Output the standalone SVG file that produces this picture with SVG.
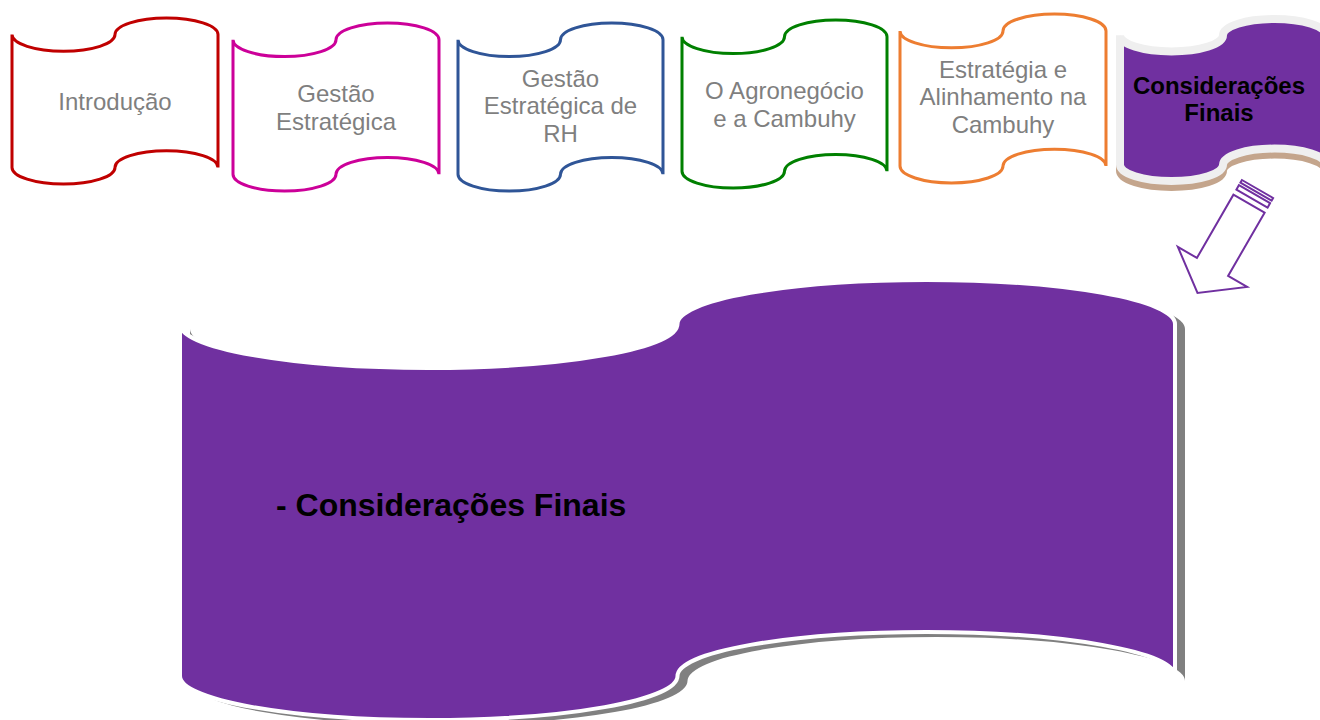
<svg xmlns="http://www.w3.org/2000/svg" width="1320" height="720" viewBox="0 0 1320 720">
<style>
.tape{fill:#FFFFFF;stroke-width:3;stroke-linejoin:miter}
.lbl{font-family:"Liberation Sans",Arial,sans-serif;font-size:24px;fill:#7F7F7F;text-anchor:middle}
.lblb{font-family:"Liberation Sans",Arial,sans-serif;font-size:24px;font-weight:bold;fill:#000000;text-anchor:middle}
.big{font-family:"Liberation Sans",Arial,sans-serif;font-size:32px;font-weight:bold;fill:#000000}
</style>
<rect width="1320" height="720" fill="#FFFFFF"/>
<g id="node-introducao">
<path class="tape" stroke="#C00000" d="M12,34.6 A51.5,16.6 0 0 0 115,34.6 A51.5,16.6 0 0 1 218,34.6 L218,167.4 A51.5,16.6 0 0 0 115,167.4 A51.5,16.6 0 0 1 12,167.4 Z"/>
<text class="lbl" x="115" y="110">Introdução</text>
</g>
<g id="node-gestao-estrategica">
<path class="tape" stroke="#CC0099" d="M233,39.8 A51.5,16.8 0 0 0 336,39.8 A51.5,16.8 0 0 1 439,39.8 L439,174.2 A51.5,16.8 0 0 0 336,174.2 A51.5,16.8 0 0 1 233,174.2 Z"/>
<text class="lbl" x="336" y="102">Gestão</text>
<text class="lbl" x="336" y="130">Estratégica</text>
</g>
<g id="node-gestao-rh">
<path class="tape" stroke="#2F5597" d="M458,39.8 A51.25,16.8 0 0 0 560.5,39.8 A51.25,16.8 0 0 1 663,39.8 L663,174.2 A51.25,16.8 0 0 0 560.5,174.2 A51.25,16.8 0 0 1 458,174.2 Z"/>
<text class="lbl" x="560.5" y="87">Gestão</text>
<text class="lbl" x="560.5" y="114">Estratégica de</text>
<text class="lbl" x="560.5" y="142">RH</text>
</g>
<g id="node-agronegocio">
<path class="tape" stroke="#008000" d="M682,36.8 A51.25,16.8 0 0 0 784.5,36.8 A51.25,16.8 0 0 1 887,36.8 L887,171.2 A51.25,16.8 0 0 0 784.5,171.2 A51.25,16.8 0 0 1 682,171.2 Z"/>
<text class="lbl" x="784.5" y="99">O Agronegócio</text>
<text class="lbl" x="784.5" y="127">e a Cambuhy</text>
</g>
<g id="node-estrategia-alinhamento">
<path class="tape" stroke="#ED7D31" d="M900,30.9 A51.5,16.9 0 0 0 1003,30.9 A51.5,16.9 0 0 1 1106,30.9 L1106,166.1 A51.5,16.9 0 0 0 1003,166.1 A51.5,16.9 0 0 1 900,166.1 Z"/>
<text class="lbl" x="1003" y="78">Estratégia e</text>
<text class="lbl" x="1003" y="105">Alinhamento na</text>
<text class="lbl" x="1003" y="133">Cambuhy</text>
</g>
<g id="node-consideracoes-finais">
<path fill="#C4A58C" transform="translate(0,6)" d="M1120,35.2 A51.5,16.2 0 0 0 1223,35.2 A51.5,16.2 0 0 1 1326,35.2 L1326,164.8 A51.5,16.2 0 0 0 1223,164.8 A51.5,16.2 0 0 1 1120,164.8 Z" stroke="#C4A58C" stroke-width="8"/>
<path fill="#7030A0" stroke="#EFEFEF" stroke-width="8" d="M1120,35.2 A51.5,16.2 0 0 0 1223,35.2 A51.5,16.2 0 0 1 1326,35.2 L1326,164.8 A51.5,16.2 0 0 0 1223,164.8 A51.5,16.2 0 0 1 1120,164.8 Z"/>
<text class="lblb" x="1219" y="94">Considerações</text>
<text class="lblb" x="1219" y="121">Finais</text>
</g>
<g id="connectors">
<g transform="translate(1257.5,189) rotate(120)" fill="#FFFFFF" stroke="#7030A0" stroke-width="2" stroke-linejoin="miter">
<rect x="0" y="-18" width="3" height="36"/>
<rect x="6" y="-18" width="5" height="36"/>
<path d="M17,-18 L90,-18 L90,-40 L120,0 L90,40 L90,18 L17,18 Z"/>
</g>
</g>
<g id="node-detalhe">
<path fill="#808080" transform="translate(10,5)" d="M180,324 A248.75,44 0 0 0 677.5,324 A248.75,44 0 0 1 1175,324 L1175,676 A248.75,44 0 0 0 677.5,676 A248.75,44 0 0 1 180,676 Z"/>
<path fill="#7030A0" stroke="#FFFFFF" stroke-width="4" d="M180,324 A248.75,44 0 0 0 677.5,324 A248.75,44 0 0 1 1175,324 L1175,676 A248.75,44 0 0 0 677.5,676 A248.75,44 0 0 1 180,676 Z"/>
<text class="big" x="276" y="516">- Considerações Finais</text>
</g>
</svg>
